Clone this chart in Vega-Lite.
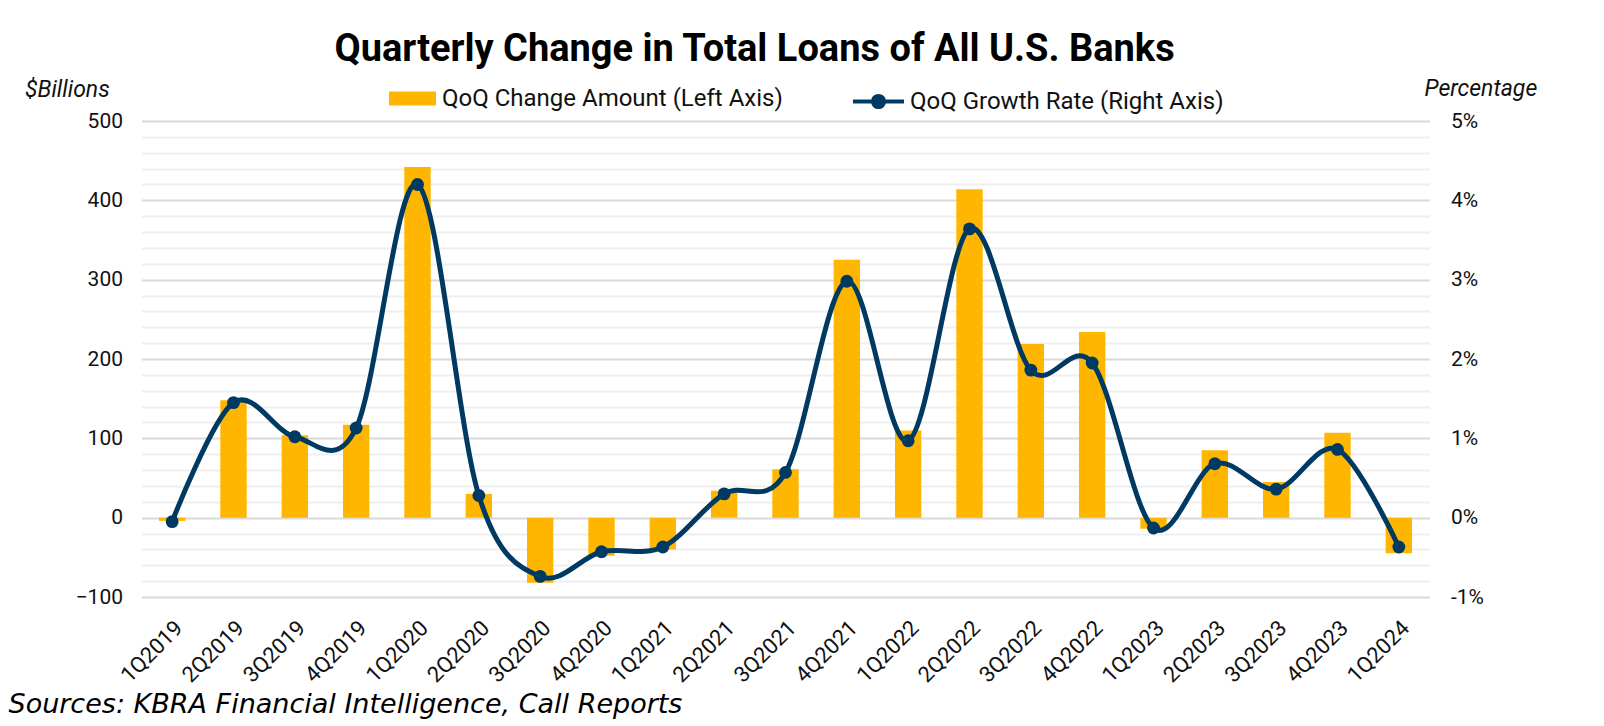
{
  "$schema": "https://vega.github.io/schema/vega-lite/v6.json",
  "width": 1288,
  "height": 476,
  "autosize": {"type": "none"},
  "padding": {"left": 141.5, "top": 121, "right": 174.5, "bottom": 129},
  "background": "white",
  "title": {
    "text": "Quarterly Change in Total Loans of All U.S. Banks",
    "font": "Roboto",
    "fontSize": 38,
    "fontWeight": "bold",
    "color": "#000000",
    "anchor": "start",
    "frame": "group",
    "dx": 193,
    "offset": 5
  },
  "data": {
    "values": [
      {"q": "1Q2019", "amount": -4, "rate": -0.05},
      {"q": "2Q2019", "amount": 148, "rate": 1.45},
      {"q": "3Q2019", "amount": 104, "rate": 1.02},
      {"q": "4Q2019", "amount": 117, "rate": 1.13},
      {"q": "1Q2020", "amount": 442, "rate": 4.2},
      {"q": "2Q2020", "amount": 30, "rate": 0.28},
      {"q": "3Q2020", "amount": -82, "rate": -0.74},
      {"q": "4Q2020", "amount": -48, "rate": -0.43},
      {"q": "1Q2021", "amount": -40, "rate": -0.37},
      {"q": "2Q2021", "amount": 34, "rate": 0.3},
      {"q": "3Q2021", "amount": 61, "rate": 0.57},
      {"q": "4Q2021", "amount": 325, "rate": 2.98},
      {"q": "1Q2022", "amount": 110, "rate": 0.97},
      {"q": "2Q2022", "amount": 414, "rate": 3.64},
      {"q": "3Q2022", "amount": 219, "rate": 1.86},
      {"q": "4Q2022", "amount": 234, "rate": 1.95},
      {"q": "1Q2023", "amount": -14, "rate": -0.13},
      {"q": "2Q2023", "amount": 85, "rate": 0.68},
      {"q": "3Q2023", "amount": 45, "rate": 0.36},
      {"q": "4Q2023", "amount": 107, "rate": 0.86},
      {"q": "1Q2024", "amount": -45, "rate": -0.37}
    ]
  },
  "encoding": {
    "x": {
      "field": "q",
      "type": "nominal",
      "sort": null,
      "scale": {"paddingInner": 0.57, "paddingOuter": 0.285},
      "axis": {
        "title": "Sources: KBRA Financial Intelligence, Call Reports",
        "titleFont": "DejaVu Sans",
        "titleFontStyle": "italic",
        "titleFontWeight": "normal",
        "titleFontSize": 27,
        "titleColor": "#000000",
        "titleAlign": "left",
        "titleAnchor": "start",
        "titleBaseline": "alphabetic",
        "titleAngle": 0,
        "titleX": -133.5,
        "titleY": 115,
        "labelAngle": -45,
        "labelAlign": "right",
        "labelBaseline": "middle",
        "labelPadding": 27,
        "labelOffset": 7,
        "labelFont": "Roboto",
        "labelFontSize": 22,
        "labelColor": "#111111",
        "domain": false,
        "ticks": false,
        "grid": false
      }
    }
  },
  "layer": [
    {
      "mark": {"type": "bar"},
      "encoding": {
        "y": {
          "field": "amount",
          "type": "quantitative",
          "scale": {"domain": [-100, 500], "nice": false, "zero": false},
          "axis": {
            "orient": "left",
            "values": [-100, -80, -60, -40, -20, 0, 20, 40, 60, 80, 100, 120, 140, 160, 180, 200, 220, 240, 260, 280, 300, 320, 340, 360, 380, 400, 420, 440, 460, 480, 500],
            "labelExpr": "datum.value % 100 === 0 ? datum.label : ''",
            "grid": true,
            "gridColor": {"condition": {"test": "datum.value % 100 === 0", "value": "#d9d9d9"}, "value": "#efefef"},
            "gridWidth": 2,
            "domain": false,
            "ticks": false,
            "labelPadding": 19,
            "labelFont": "Roboto",
            "labelFontSize": 21,
            "labelColor": "#111111",
            "title": "$Billions",
            "titleFont": "Roboto",
            "titleFontStyle": "italic",
            "titleFontWeight": "normal",
            "titleFontSize": 23,
            "titleColor": "#111111",
            "titleAngle": 0,
            "titleAlign": "left",
            "titleBaseline": "alphabetic",
            "titleX": -117,
            "titleY": -25
          }
        },
        "fill": {
          "datum": "QoQ Change Amount (Left Axis)",
          "type": "nominal",
          "scale": {"range": ["#FFB600"]},
          "legend": {
            "orient": "none",
            "legendX": 247.5,
            "legendY": -46,
            "title": null,
            "padding": 0,
            "symbolType": "M-1,-0.3H1V0.3H-1Z",
            "symbolSize": 2209,
            "symbolStrokeWidth": 0,
            "labelFont": "Roboto",
            "labelFontSize": 24,
            "labelColor": "#111111",
            "labelOffset": 6,
            "labelLimit": 0
          }
        }
      }
    },
    {
      "encoding": {
        "y": {
          "field": "rate",
          "type": "quantitative",
          "scale": {"domain": [-1, 5], "nice": false, "zero": false},
          "axis": {
            "orient": "right",
            "values": [-1, 0, 1, 2, 3, 4, 5],
            "labelExpr": "datum.value + '%'",
            "grid": false,
            "domain": false,
            "ticks": false,
            "labelPadding": 21,
            "labelFont": "Roboto",
            "labelFontSize": 21,
            "labelColor": "#111111",
            "title": "Percentage",
            "titleFont": "Roboto",
            "titleFontStyle": "italic",
            "titleFontWeight": "normal",
            "titleFontSize": 23,
            "titleColor": "#111111",
            "titleAngle": 0,
            "titleAlign": "left",
            "titleBaseline": "alphabetic",
            "titleX": -5.5,
            "titleY": -26
          }
        }
      },
      "layer": [
        {
          "mark": {"type": "line", "interpolate": "cardinal", "strokeWidth": 5},
          "encoding": {
            "stroke": {
              "datum": "QoQ Growth Rate (Right Axis)",
              "type": "nominal",
              "scale": {"range": ["#003A63"]},
              "legend": {
                "orient": "none",
                "legendX": 709.5,
                "legendY": -47,
                "title": null,
                "padding": 0,
                "symbolType": "M-1,0H1M-0.22,0A0.22,0.22,0,1,1,0.22,0A0.22,0.22,0,1,1,-0.22,0Z",
                "symbolSize": 2601,
                "symbolStrokeWidth": 4,
                "labelFont": "Roboto",
                "labelFontSize": 24,
                "labelColor": "#111111",
                "labelOffset": 4,
                "labelLimit": 0,
                "encode": {"symbols": {"update": {"fill": {"value": "#003A63"}, "fillOpacity": {"value": 1}}}}
              }
            }
          }
        },
        {
          "mark": {"type": "point", "shape": "circle", "filled": true, "size": 165, "opacity": 1, "color": "#003A63"}
        }
      ]
    }
  ],
  "resolve": {"scale": {"y": "independent"}},
  "config": {
    "view": {"stroke": null}
  }
}
